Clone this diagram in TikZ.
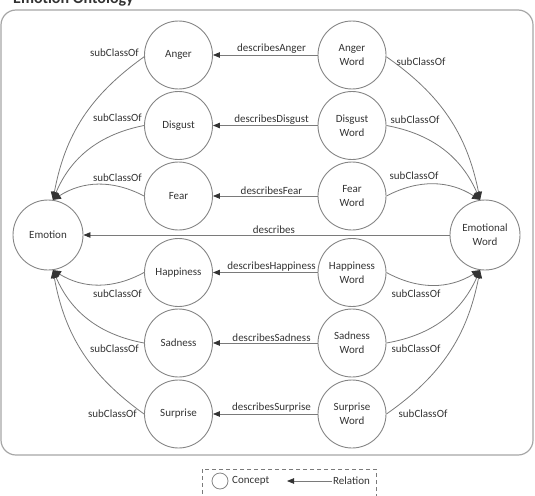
\documentclass[tikz,border=0pt]{standalone}
\usepackage{fontspec}
\setmainfont{Carlito}
\usetikzlibrary{arrows.meta,calc}
\definecolor{linec}{HTML}{7A7A7A}
\definecolor{circc}{HTML}{858585}
\definecolor{txtc}{HTML}{333333}
\definecolor{boxc}{HTML}{A6A6A6}
\definecolor{tipc}{HTML}{333333}
\begin{document}
\begin{tikzpicture}[x=1pt,y=1pt,
  concept/.style={circle,draw=circc,line width=0.9pt,minimum size=68pt,inner sep=0pt,align=center,text=txtc,font=\fontsize{11}{14}\selectfont},
  bigconcept/.style={concept,minimum size=70pt},
  rel/.style={draw=linec,line width=0.8pt,-{Triangle[length=7pt,width=5.5pt,color=tipc]}},
  subrel/.style={draw=linec,line width=0.8pt,-{Triangle[length=8pt,width=7pt,color=tipc]}},
  lbl/.style={text=txtc,font=\fontsize{11}{13}\selectfont,inner sep=1pt},
]
\useasboundingbox (0,0) rectangle (535,-495);
\node[anchor=base west,inner sep=0pt,text=txtc,font=\bfseries\fontsize{16}{18}\selectfont] (title) at (13,-4) {Emotion Ontology};
\draw[boxc,line width=1.2pt,rounded corners=15pt] (1,-10) rectangle (533,-455);

% left column
\node[concept] (anger) at (178.5,-55) {Anger};
\node[concept] (disgust) at (178.5,-125.5) {Disgust};
\node[concept] (fear) at (178.5,-196) {Fear};
\node[concept] (happy) at (178.5,-272.5) {Happiness};
\node[concept] (sad) at (178.5,-343) {Sadness};
\node[concept] (surprise) at (178.5,-414) {Surprise};
% right column
\node[concept] (angerW) at (352,-55) {Anger\\Word};
\node[concept] (disgustW) at (352,-125.5) {Disgust\\Word};
\node[concept] (fearW) at (352,-196) {Fear\\Word};
\node[concept] (happyW) at (352,-272.5) {Happiness\\Word};
\node[concept] (sadW) at (352,-343) {Sadness\\Word};
\node[concept] (surpriseW) at (352,-414) {Surprise\\Word};
% outer
\node[bigconcept] (emotion) at (48,-235) {Emotion};
\node[bigconcept] (emoword) at (485,-235) {Emotional\\Word};

% describes
\draw[rel] (angerW) -- (anger) node[lbl,above,pos=0.44] (d1) {describesAnger};
\draw[rel] (disgustW) -- (disgust) node[lbl,above,pos=0.44] (d2) {describesDisgust};
\draw[rel] (fearW) -- (fear) node[lbl,above,pos=0.44] (d3) {describesFear};
\draw[rel] (happyW) -- (happy) node[lbl,above,pos=0.44] (d4) {describesHappiness};
\draw[rel] (sadW) -- (sad) node[lbl,above,pos=0.44] (d5) {describesSadness};
\draw[rel] (surpriseW) -- (surprise) node[lbl,above,pos=0.44] (d6) {describesSurprise};
\draw[rel] (emoword) -- (emotion) node[lbl,above,pos=0.48] (d7) {describes};

% subClassOf left
\draw[subrel] (anger.183) to[bend right=22] (emotion.82);
\draw[subrel] (disgust.west) to[bend right=28] (emotion.82);
\draw[subrel] (fear.west) to[bend right=30] (emotion.82);
\draw[subrel] (happy.west) to[bend left=30] (emotion.-82);
\draw[subrel] (sad.west) to[bend left=28] (emotion.-82);
\draw[subrel] (surprise.west) to[bend left=22] (emotion.-82);
% subClassOf right
\draw[subrel] (angerW.-3) to[bend left=22] (emoword.98);
\draw[subrel] (disgustW.east) to[bend left=28] (emoword.98);
\draw[subrel] (fearW.east) to[bend left=30] (emoword.98);
\draw[subrel] (happyW.east) to[bend right=30] (emoword.-98);
\draw[subrel] (sadW.east) to[bend right=28] (emoword.-98);
\draw[subrel] (surpriseW.east) to[bend right=22] (emoword.-98);

% subClassOf labels
\node[lbl,anchor=east] (s1) at ([shift={(-4,2)}]anger.west) {subClassOf};
\node[lbl,anchor=east] (s2) at ([shift={(-1,8)}]disgust.west) {subClassOf};
\node[lbl,anchor=east] (s3) at ([shift={(-1,18)}]fear.west) {subClassOf};
\node[lbl,anchor=east] (s4) at ([shift={(-1,-21)}]happy.west) {subClassOf};
\node[lbl,anchor=east] (s5) at ([shift={(-4,-6)}]sad.west) {subClassOf};
\node[lbl,anchor=east] (s6) at ([shift={(-6,0)}]surprise.west) {subClassOf};
\node[lbl,anchor=west] (t1) at ([shift={(9,-7)}]angerW.east) {subClassOf};
\node[lbl,anchor=west] (t2) at ([shift={(3,6)}]disgustW.east) {subClassOf};
\node[lbl,anchor=west] (t3) at ([shift={(2,20)}]fearW.east) {subClassOf};
\node[lbl,anchor=west] (t4) at ([shift={(4,-21)}]happyW.east) {subClassOf};
\node[lbl,anchor=west] (t5) at ([shift={(4,-6)}]sadW.east) {subClassOf};
\node[lbl,anchor=west] (t6) at ([shift={(11,0)}]surpriseW.east) {subClassOf};

% legend
\draw[linec,line width=0.8pt,dash pattern=on 4pt off 3pt] (202,-469) rectangle (376,-505);
\node[circle,draw=circc,line width=0.8pt,minimum size=16pt,inner sep=0pt] (lc) at (220,-481) {};
\node[lbl,anchor=west] (lconcept) at (231,-481) {Concept};
\node[lbl,anchor=west] (lrel) at (332,-481) {Relation};
\coordinate (lend) at (287,-481);
\draw[rel] (lrel.west) -- (lend);
\end{tikzpicture}
\end{document}
